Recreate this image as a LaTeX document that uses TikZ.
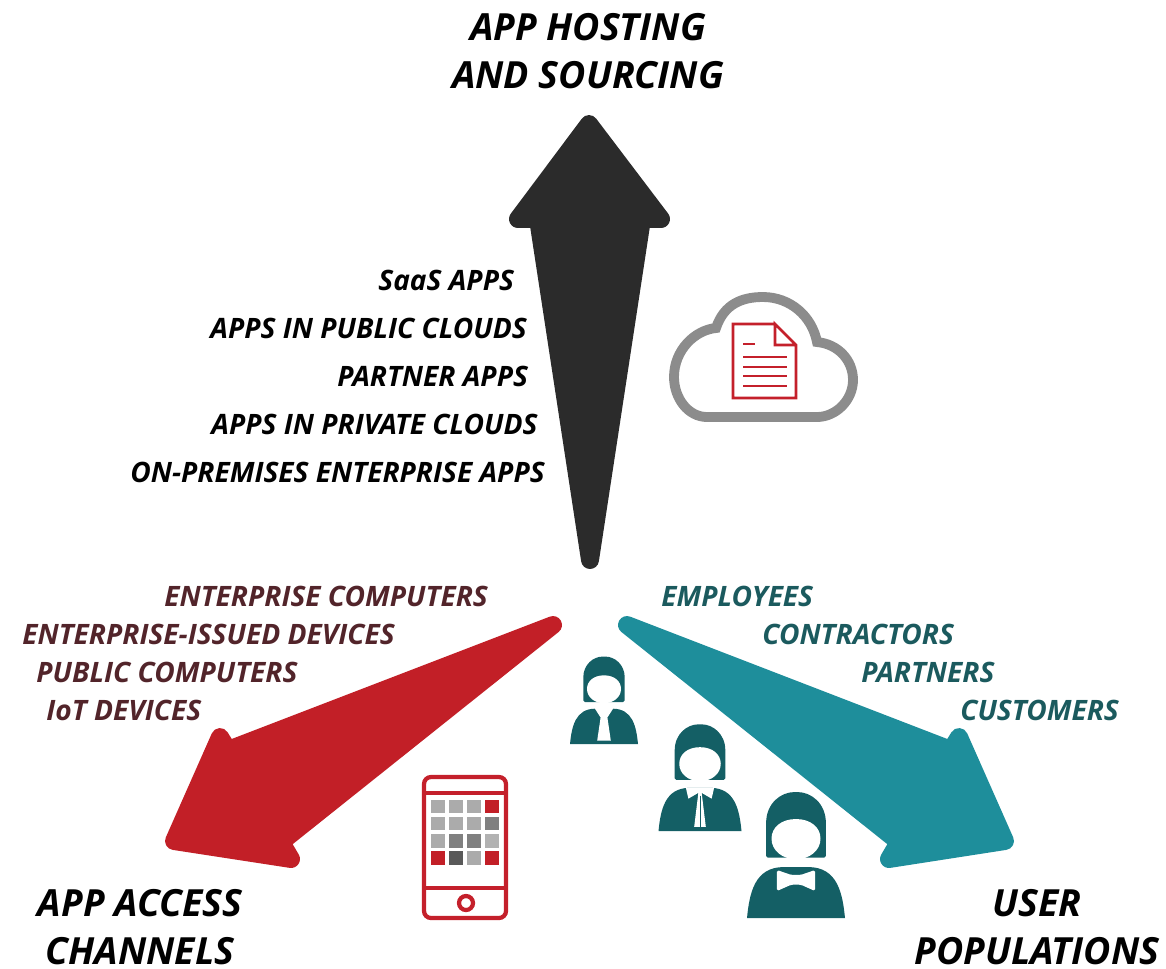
\documentclass[tikz,border=0pt]{standalone}
\usepackage{fontspec}
\setmainfont{Open Sans}
\usetikzlibrary{calc}
\usetikzlibrary{positioning}
\definecolor{arrowblack}{HTML}{2B2B2B}
\definecolor{arrowred}{HTML}{C21F27}
\definecolor{arrowteal}{HTML}{1E8E9B}
\definecolor{channelbrown}{HTML}{52242A}
\definecolor{userteal}{HTML}{1B5A5E}
\definecolor{iconteal}{HTML}{145F65}
\definecolor{cloudgrey}{HTML}{8C8C8C}
\definecolor{iconred}{HTML}{C4202B}
\newcommand{\drawperson}{
  \fill [iconteal, rounded corners=1pt] (-0.61,-1.23) -- (-0.61,-1.9)
    .. controls (-0.61,-2.35) and (-0.3,-2.57) .. (0,-2.57)
    .. controls (0.3,-2.57) and (0.61,-2.35) .. (0.61,-1.9) -- (0.61,-1.23) -- cycle;
  \fill [white] (-0.5,-1.62) .. controls (-0.5,-1.38) and (-0.28,-1.2) .. (0,-1.2)
    .. controls (0.28,-1.2) and (0.5,-1.38) .. (0.5,-1.62)
    .. controls (0.5,-1.85) and (0.3,-2.02) .. (0,-2.02)
    .. controls (-0.3,-2.02) and (-0.5,-1.85) .. (-0.5,-1.62) -- cycle;
  \fill [iconteal] (-1,0) .. controls (-0.95,-0.5) and (-0.85,-1.04) .. (-0.25,-1.04)
    -- (0.25,-1.04) .. controls (0.85,-1.04) and (0.95,-0.5) .. (1,0) -- cycle;
}
\begin{document}
\begin{tikzpicture}[x=0.02cm, y=-0.02cm,
  text centered,
  heading/.style = {font=\bfseries\itshape\fontsize{21.3}{27.2}\selectfont, align=center, inner sep=0pt, text=black},
  applabel/.style = {font=\bfseries\itshape\fontsize{16}{17}\selectfont, anchor=west, inner sep=0pt, text=black},
  devicelabel/.style = {applabel, text=channelbrown},
  userlabel/.style = {applabel, text=userteal},
  bigarrow/.style = {line join=round, line width=10.2pt},
  cloudline/.style = {draw=cloudgrey, line width=5.6pt},
  iconline/.style = {draw=iconred, line width=1.6pt},
  tabletline/.style = {draw=iconred, line width=2.4pt},
  cell/.style = {minimum size=0.29cm, inner sep=0pt, draw=white, line width=0.3pt}
  ]
\useasboundingbox (0,0) rectangle (1166,968);
% arrows
\filldraw [arrowblack, bigarrow] (589,124) -- (661,219) -- (642,219) -- (590,560)
  -- (538,219) -- (518,219) -- cycle;
\filldraw [arrowred, bigarrow] (553,625) -- (281,842) -- (291,859) -- (174,841)
  -- (220,737) -- (228,750) -- cycle;
\filldraw [arrowteal, bigarrow] (627,625) -- (899,842) -- (889,859) -- (1005,841)
  -- (959,737) -- (951,750) -- cycle;
% headings
\node (hosting) [heading] at (588,51) {APP HOSTING\\AND SOURCING};
\node (access) [heading] at (140,927) {APP ACCESS\\CHANNELS};
\node (population) [heading] at (1037,927) {USER\\POPULATIONS};
% apps
\node (saas) [applabel] at (378,280) {SaaS APPS};
\node (public) [applabel] at ([shift={(-168,48)}]saas.west) {APPS IN PUBLIC CLOUDS};
\node (partner) [applabel] at ([shift={(127,48)}]public.west) {PARTNER APPS};
\node (private) [applabel] at ([shift={(-126,48)}]partner.west) {APPS IN PRIVATE CLOUDS};
\node (onprem) [applabel] at ([shift={(-81,48)}]private.west) {ON-PREMISES ENTERPRISE APPS};
% devices
\node (computers) [devicelabel] at (164,596) {ENTERPRISE COMPUTERS};
\node (issued) [devicelabel] at ([shift={(-142,38)}]computers.west) {ENTERPRISE-ISSUED DEVICES};
\node (publicpc) [devicelabel] at ([shift={(14,38)}]issued.west) {PUBLIC COMPUTERS};
\node (iot) [devicelabel] at ([shift={(10,38)}]publicpc.west) {IoT DEVICES};
% users
\node (employees) [userlabel] at (661,596) {EMPLOYEES};
\node (contractors) [userlabel] at ([shift={(101,38)}]employees.west) {CONTRACTORS};
\node (partners) [userlabel] at ([shift={(99,38)}]contractors.west) {PARTNERS};
\node (customers) [userlabel] at ([shift={(99,38)}]partners.west) {CUSTOMERS};
% cloud with document
\draw [cloudline] (707,417) .. controls (688,417) and (674,398) .. (674,377)
  .. controls (674,350) and (695,330) .. (716,328)
  .. controls (724,304) and (742,297) .. (763,297)
  .. controls (790,297) and (812,316) .. (817,342)
  .. controls (838,344) and (853,360) .. (853,380)
  .. controls (853,400) and (836,417) .. (817,417) -- cycle;
\draw [iconline] (775,324) -- (733,324) -- (733,398) -- (796,398) -- (796,345) -- (775,324)
  -- (775,345) -- (796,345);
\draw [iconline] (743,344) -- (755,344);
\foreach \ypos in {357,367,376,386}
  \draw [iconline] (743,\ypos) -- (787,\ypos);
% tablet
\draw [tabletline, rounded corners=4pt] (424,777) rectangle (506,918);
\draw [tabletline] (424,793) -- (506,793);
\draw [tabletline] (424,888) -- (506,888);
\draw [tabletline] (466,903) circle (7);
\foreach \col/\row/\shade in {0/0/black!33,1/0/black!33,2/0/black!33,3/0/arrowred,
  0/1/black!33,1/1/black!33,2/1/black!33,3/1/black!50,
  0/2/black!33,1/2/black!50,2/2/black!50,3/2/black!30,
  0/3/arrowred,1/3/black!65,2/3/black!33,3/3/arrowred}
  \node [cell, fill=\shade] at (438+18*\col,806+17.3*\row) {};
% people
\begin{scope}[shift={(604,744)}, scale=34]
  \drawperson
  \fill [white] (-0.28,-1.06) -- (0.28,-1.06) -- (0.1,-0.78) -- (0.2,-0.1)
    -- (-0.2,-0.1) -- (-0.1,-0.78) -- cycle;
\end{scope}
\begin{scope}[shift={(700,831)}, scale=41.5]
  \drawperson
  \fill [white] (-0.34,-1.04) -- (0.34,-1.04) -- (0.28,-0.78) -- (0.04,-0.92)
    -- (0.14,-0.1) -- (-0.14,-0.1) -- (-0.04,-0.92) -- (-0.28,-0.78) -- cycle;
  \draw [iconteal, line width=0.5pt] (0,-0.85) -- (0,-0.1);
\end{scope}
\begin{scope}[shift={(796,918)}, scale=49]
  \drawperson
  \fill [white, rounded corners=1pt] (-0.39,-0.98) -- (-0.1,-0.88) -- (0.1,-0.88)
    -- (0.39,-0.98) -- (0.39,-0.55) -- (0.1,-0.68) -- (-0.1,-0.68) -- (-0.39,-0.55) -- cycle;
\end{scope}
\end{tikzpicture}
\end{document}
